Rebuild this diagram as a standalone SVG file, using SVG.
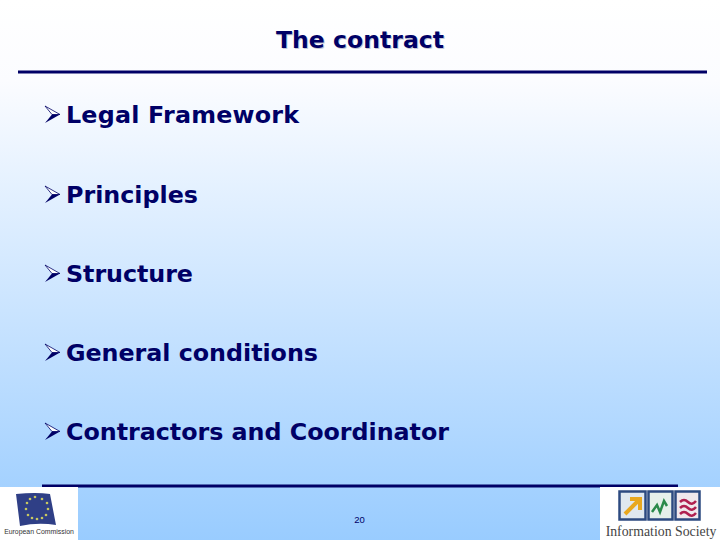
<svg xmlns="http://www.w3.org/2000/svg" width="720" height="540" viewBox="0 0 720 540">
<style>
.t{font-family:"DejaVu Sans",Verdana,sans-serif;font-weight:700;fill:#000066;font-size:23.8px}
.ti{font-size:23.5px}
.sh{fill:#c4c8d4}
.r{stroke:#000066;stroke-width:3;fill:none}
.bu{fill:#000066}
.bt{fill:#fff;stroke:#000066;stroke-width:0.800}
</style>
<defs>
<linearGradient id="bg" x1="0" y1="0" x2="0" y2="1">
<stop offset="0" stop-color="#ffffff"/><stop offset="0.15" stop-color="#fbfcff"/><stop offset="1" stop-color="#99ccff"/>
</linearGradient>
<g id="b">
<polygon points="0,0 15,8.500 7,8.500" class="bt"/>
<polygon points="0,17 15,8.500 7,8.500" class="bu"/>
</g>
</defs>
<rect width="720" height="540" fill="url(#bg)"/>
<text class="t ti sh" x="277" y="49" textLength="168" lengthAdjust="spacing">The contract</text>
<text class="t ti" x="276" y="48" textLength="168" lengthAdjust="spacing">The contract</text>
<path class="r" d="M18 72H707M42 486H678"/>
<g id="item1"><use href="#b" x="45" y="106"/><text class="t" x="66" y="123" textLength="233" lengthAdjust="spacing">Legal Framework</text></g>
<g id="item2"><use href="#b" x="45" y="186"/><text class="t" x="66" y="203" textLength="132" lengthAdjust="spacing">Principles</text></g>
<g id="item3"><use href="#b" x="45" y="265"/><text class="t" x="66" y="282" textLength="127" lengthAdjust="spacing">Structure</text></g>
<g id="item4"><use href="#b" x="45" y="344"/><text class="t" x="66" y="361" textLength="252" lengthAdjust="spacing">General conditions</text></g>
<g id="item5"><use href="#b" x="45" y="423"/><text class="t" x="66" y="440" textLength="383" lengthAdjust="spacing">Contractors and Coordinator</text></g>
<text x="359.500" y="523" text-anchor="middle" font-family="Liberation Sans,sans-serif" font-size="9.500" fill="#000066">20</text>
<g id="ec-logo">
<rect x="0" y="487" width="78" height="53" fill="#fff"/>
<path d="M16 494Q36 492 50 494L56 525Q38 522 20 526Z" fill="#2f3f86"/>
<g fill="#c8c860"><circle cx="35" cy="497" r="1.300"/><circle cx="42" cy="499" r="1.300"/><circle cx="47" cy="503" r="1.300"/><circle cx="48" cy="509" r="1.300"/><circle cx="46" cy="515" r="1.300"/><circle cx="42" cy="518" r="1.300"/><circle cx="37" cy="519" r="1.300"/><circle cx="32" cy="518" r="1.300"/><circle cx="28" cy="515" r="1.300"/><circle cx="26" cy="509" r="1.300"/><circle cx="27" cy="503" r="1.300"/><circle cx="30" cy="499" r="1.300"/></g>
<text x="39" y="534" text-anchor="middle" font-family="Liberation Sans,sans-serif" font-size="6.900" fill="#333">European Commission</text>
</g>
<g id="is-logo">
<rect x="600" y="487" width="120" height="53" fill="#fff"/>
<rect x="619.500" y="491.500" width="26" height="28" fill="#dfe8f0" stroke="#2c4a80" stroke-width="2.500"/>
<rect x="648.500" y="491.500" width="24" height="28" fill="#e6f0ea" stroke="#2c4a80" stroke-width="2.500"/>
<rect x="675.500" y="491.500" width="24" height="28" fill="#f0e8ec" stroke="#2c4a80" stroke-width="2.500"/>
<path d="M625 514L638 501M630 499H640V510" fill="none" stroke="#e8a820" stroke-width="4"/>
<path d="M652 512L657 505L660 512L664 501L667 506" fill="none" stroke="#2a8a4a" stroke-width="2.500"/>
<path d="M680 502Q684 498 688 502T696 501M680 508Q684 504 688 508T696 507M680 514Q684 510 688 514T696 513" fill="none" stroke="#b02050" stroke-width="2.500"/>
<text x="661" y="536" text-anchor="middle" font-family="Liberation Serif,serif" font-size="13.800" fill="#444">Information Society</text>
</g>
</svg>
